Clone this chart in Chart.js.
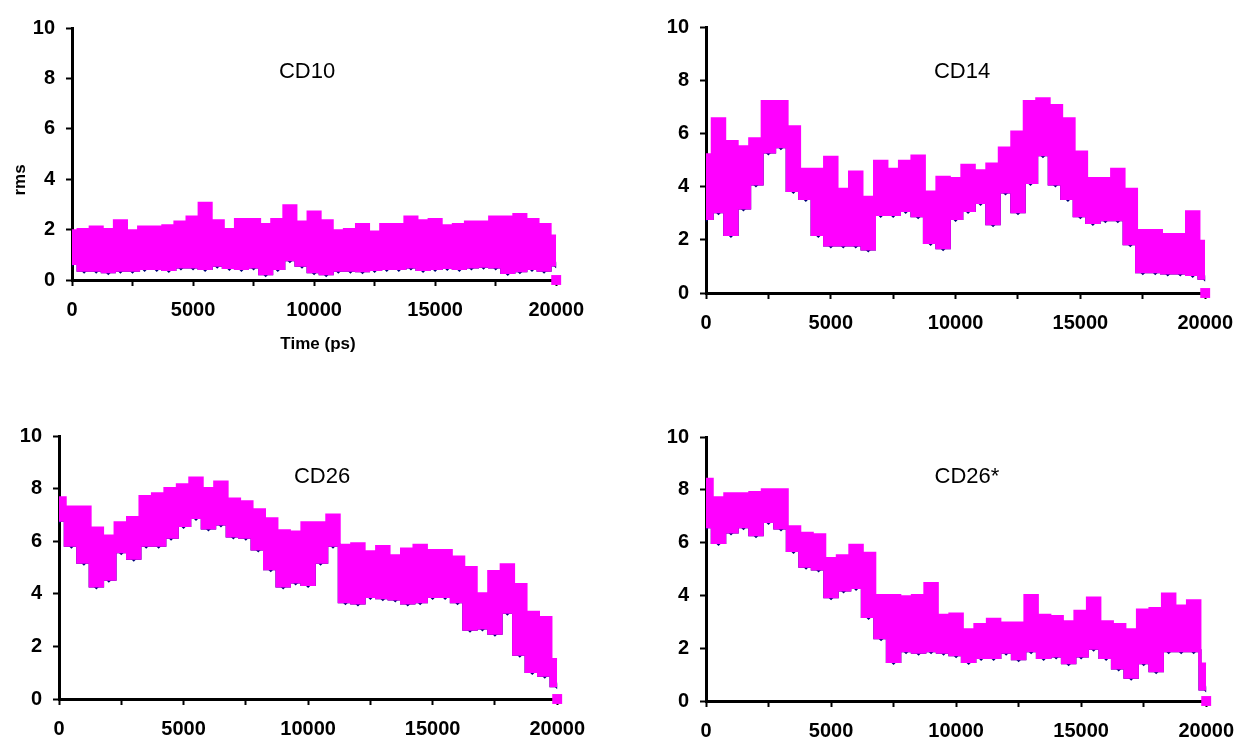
<!DOCTYPE html>
<html>
<head>
<meta charset="utf-8">
<title>rms vs time</title>
<script src="https://cdn.jsdelivr.net/npm/chart.js@4.4.1/dist/chart.umd.min.js"></script>
<style>
  body { margin: 0; background: #fff; }
  #wrap { position: relative; width: 1247px; height: 747px; overflow: hidden; background: #fff; }
  #wrap canvas { position: absolute; }
</style>
</head>
<body>
<div id="wrap">
  <canvas id="cd10"></canvas>
  <canvas id="cd14"></canvas>
  <canvas id="cd26"></canvas>
  <canvas id="cd26s"></canvas>
</div>
<script>
// time axis (ps), one sample every 500 ps
const times = [0, 500, 1000, 1500, 2000, 2500, 3000, 3500, 4000, 4500,
  5000, 5500, 6000, 6500, 7000, 7500, 8000, 8500, 9000, 9500,
  10000, 10500, 11000, 11500, 12000, 12500, 13000, 13500, 14000, 14500,
  15000, 15500, 16000, 16500, 17000, 17500, 18000, 18500, 19000, 19500, 20000];

// labelled ticks
const xTickLabels = [0, 5000, 10000, 15000, 20000];
const yTickLabels = [0, 2, 4, 6, 8, 10];

// top / bottom of the magenta band
const cd10Upper = [1.95, 2.0, 2.1, 2.0, 2.35, 1.95, 2.1, 2.1, 2.15, 2.3,
  2.5, 3.05, 2.35, 2.0, 2.4, 2.4, 2.2, 2.4, 2.95, 2.3,
  2.7, 2.35, 1.95, 2.0, 2.2, 1.9, 2.2, 2.2, 2.5, 2.35,
  2.4, 2.15, 2.2, 2.3, 2.3, 2.5, 2.5, 2.6, 2.4, 2.2, 1.75];
const cd10Lower = [0.65, 0.39, 0.39, 0.33, 0.39, 0.39, 0.46, 0.46, 0.42, 0.52,
  0.52, 0.46, 0.59, 0.5, 0.46, 0.52, 0.25, 0.46, 0.8, 0.59,
  0.33, 0.25, 0.39, 0.39, 0.37, 0.42, 0.46, 0.46, 0.52, 0.42,
  0.46, 0.5, 0.46, 0.52, 0.55, 0.52, 0.3, 0.37, 0.46, 0.39, 0.6];

const cd14Upper = [5.2, 6.55, 5.7, 5.5, 5.8, 7.2, 7.2, 6.25, 4.65, 4.65,
  5.1, 3.9, 4.55, 3.6, 4.95, 4.65, 4.95, 5.15, 3.8, 4.35,
  4.3, 4.8, 4.6, 4.85, 5.45, 6.05, 7.2, 7.3, 7.05, 6.55,
  5.3, 4.3, 4.3, 4.65, 3.9, 2.35, 2.35, 2.2, 2.2, 3.05, 1.95];
const cd14Lower = [2.8, 3.05, 2.2, 3.2, 4.1, 5.3, 5.5, 3.85, 3.55, 2.2,
  1.8, 1.8, 1.8, 1.65, 2.95, 2.95, 3.1, 2.9, 1.9, 1.7,
  2.8, 3.1, 3.4, 2.6, 3.8, 3.05, 4.15, 5.2, 4.1, 3.55,
  2.9, 2.65, 2.75, 2.75, 1.85, 0.8, 0.8, 0.75, 0.75, 0.7, 0.55];

const cd26Upper = [7.65, 7.3, 7.3, 6.5, 6.2, 6.7, 6.9, 7.7, 7.8, 8.0,
  8.15, 8.4, 8.0, 8.25, 7.6, 7.5, 7.2, 6.85, 6.4, 6.35,
  6.7, 6.7, 7.0, 5.85, 5.9, 5.6, 5.8, 5.45, 5.7, 5.85,
  5.65, 5.65, 5.4, 5.0, 4.0, 4.85, 5.1, 4.35, 3.3, 3.1, 1.5];
const cd26Lower = [6.8, 5.85, 5.2, 4.3, 4.55, 5.6, 5.35, 5.85, 5.85, 6.15,
  6.6, 6.9, 6.5, 6.65, 6.2, 6.15, 5.7, 4.95, 4.3, 4.45,
  4.35, 5.2, 5.85, 3.7, 3.65, 3.9, 3.85, 3.8, 3.65, 3.7,
  3.9, 3.9, 3.7, 2.65, 2.7, 2.5, 3.3, 1.7, 1.05, 0.9, 0.5];

const cd26sUpper = [8.4, 7.7, 7.85, 7.85, 7.9, 8.0, 8.0, 6.6, 6.35, 6.3,
  5.4, 5.5, 5.9, 5.6, 4.0, 4.0, 3.95, 4.0, 4.45, 3.25,
  3.3, 2.7, 2.9, 3.1, 2.95, 2.95, 4.0, 3.25, 3.2, 3.0,
  3.4, 3.9, 3.0, 2.9, 2.7, 3.45, 3.5, 4.05, 3.6, 3.8, 1.4];
const cd26sLower = [6.6, 6.0, 6.4, 6.6, 6.3, 6.8, 6.55, 5.7, 5.1, 5.0,
  3.95, 4.2, 4.3, 3.2, 2.4, 1.5, 1.9, 1.85, 1.9, 1.85,
  1.75, 1.5, 1.65, 1.65, 1.85, 1.6, 1.9, 1.65, 1.7, 1.45,
  1.7, 2.0, 1.65, 1.25, 0.9, 1.45, 1.15, 1.9, 1.9, 1.9, 0.45];

// last frame sits at zero
const endPoint = [{ x: 20000, y: 0 }];

const MAGENTA = '#ff00ff';
const NAVY = '#00007a';
const FONT = '"Liberation Sans", Arial, Helvetica, sans-serif';

// page layout of each panel (plot area in page pixels)
const panels = [
  { id: 'cd10', name: 'CD10', upper: cd10Upper, lower: cd10Lower,
    area: { l: 72, r: 562, t: 25, b: 280 }, yW: 72, title: { x: 307, y: 72 }, axisTitles: true },
  { id: 'cd14', name: 'CD14', upper: cd14Upper, lower: cd14Lower,
    area: { l: 706, r: 1211, t: 24, b: 293 }, yW: 60, title: { x: 962, y: 72 } },
  { id: 'cd26', name: 'CD26', upper: cd26Upper, lower: cd26Lower,
    area: { l: 59, r: 563, t: 433, b: 699 }, yW: 59, title: { x: 322, y: 477 } },
  { id: 'cd26s', name: 'CD26*', upper: cd26sUpper, lower: cd26sLower,
    area: { l: 706, r: 1212, t: 434, b: 701 }, yW: 60, title: { x: 967, y: 477 } }
];

const PAD_TOP = 20, PAD_RIGHT = 34, X_H = 80;

function toXY(xs, ys) {
  return xs.map((x, i) => ({ x: x, y: ys[i] }));
}

// draws free text (panel names, axis titles) at page coordinates
const textPlugin = {
  id: 'panelText',
  afterDraw(chart, args, opts) {
    const ctx = chart.ctx;
    (opts.items || []).forEach(it => {
      ctx.save();
      ctx.font = it.font;
      ctx.fillStyle = '#000';
      ctx.textAlign = 'center';
      ctx.textBaseline = 'middle';
      ctx.translate(it.x - opts.ox, it.y - opts.oy);
      if (it.rotate) ctx.rotate(it.rotate);
      ctx.fillText(it.text, 0, 0);
      ctx.restore();
    });
  }
};

const tickFont = { family: FONT, size: 20, weight: 'bold' };
const axisGrid = {
  display: true,
  drawOnChartArea: false,
  drawTicks: true,
  tickLength: 6,
  tickWidth: 2,
  tickColor: '#000',
  color: '#000'
};
const axisBorder = { display: true, color: '#000', width: 3 };

panels.forEach(p => {
  const a = p.area;
  const left = a.l - p.yW;
  const top = a.t - PAD_TOP;
  const width = (a.r - a.l) + p.yW + PAD_RIGHT;
  const height = (a.b - a.t) + PAD_TOP + X_H;

  const canvas = document.getElementById(p.id);
  canvas.width = width;
  canvas.height = height;
  canvas.style.left = left + 'px';
  canvas.style.top = top + 'px';
  canvas.style.width = width + 'px';
  canvas.style.height = height + 'px';

  const texts = [{ text: p.name, x: p.title.x, y: p.title.y, font: '22px ' + FONT }];
  if (p.axisTitles) {
    texts.push({ text: 'Time (ps)', x: 318, y: 344, font: 'bold 17px ' + FONT });
    texts.push({ text: 'rms', x: 20, y: 180, rotate: -Math.PI / 2, font: 'bold 17px ' + FONT });
  }

  new Chart(canvas.getContext('2d'), {
    type: 'line',
    data: {
      datasets: [
        {
          label: p.name + ' band top',
          data: toXY(times, p.upper),
          borderColor: MAGENTA,
          backgroundColor: MAGENTA,
          borderWidth: 3,
          stepped: 'middle',
          pointRadius: 0,
          fill: 1
        },
        {
          label: p.name + ' band bottom',
          data: toXY(times, p.lower),
          borderColor: MAGENTA,
          backgroundColor: MAGENTA,
          borderWidth: 3,
          stepped: 'middle',
          pointRadius: 0,
          fill: false
        },
        {
          label: p.name + ' rms',
          data: toXY(times, p.lower),
          borderColor: NAVY,
          borderWidth: 3,
          stepped: 'middle',
          pointStyle: 'rectRot',
          pointRadius: 3.5,
          pointBackgroundColor: NAVY,
          pointBorderWidth: 0,
          fill: false
        },
        {
          label: p.name + ' end',
          data: endPoint,
          showLine: false,
          pointStyle: 'rect',
          pointRadius: 7,
          pointBackgroundColor: MAGENTA,
          pointBorderWidth: 0,
          clip: false
        }
      ]
    },
    options: {
      responsive: false,
      animation: false,
      events: [],
      layout: { padding: { top: PAD_TOP, right: PAD_RIGHT, left: 0, bottom: 0 } },
      plugins: {
        legend: { display: false },
        tooltip: { enabled: false },
        panelText: { items: texts, ox: left, oy: top }
      },
      scales: {
        x: {
          type: 'linear',
          min: 0,
          max: 20000,
          afterFit: s => { s.height = X_H; },
          ticks: {
            stepSize: 2500,
            autoSkip: false,
            maxRotation: 0,
            padding: 12,
            color: '#000',
            font: tickFont,
            callback: v => xTickLabels.includes(v) ? String(v) : ''
          },
          grid: axisGrid,
          border: axisBorder
        },
        y: {
          min: 0,
          max: 10,
          afterFit: s => { s.width = p.yW; },
          ticks: {
            stepSize: 1,
            padding: 11,
            color: '#000',
            font: tickFont,
            callback: v => yTickLabels.includes(v) ? String(v) : ''
          },
          grid: axisGrid,
          border: axisBorder
        }
      }
    },
    plugins: [textPlugin]
  });
});
</script>
</body>
</html>
